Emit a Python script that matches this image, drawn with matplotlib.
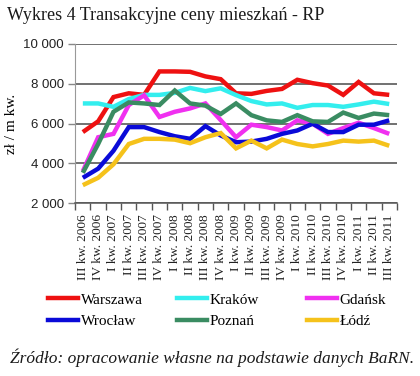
import numpy as np
import matplotlib
matplotlib.use("Agg")
import matplotlib.pyplot as plt
from matplotlib.lines import Line2D

quarters = ["III kw. 2006", "IV kw. 2006",
            "I kw. 2007", "II kw. 2007", "III kw. 2007", "IV kw. 2007",
            "I kw. 2008", "II kw. 2008", "III kw. 2008", "IV kw. 2008",
            "I kw. 2009", "II kw. 2009", "III kw. 2009", "IV kw. 2009",
            "I kw. 2010", "II kw. 2010", "III kw. 2010", "IV kw. 2010",
            "I kw. 2011", "II kw. 2011", "III kw. 2011"]

warszawa = [5570, 6110, 7330, 7520, 7440, 8620, 8620, 8600, 8370, 8230, 7520,
            7490, 7640, 7740, 8200, 8030, 7910, 7440, 8090, 7520, 7440]
krakow = [7010, 7010, 6840, 7230, 7440, 7440, 7540, 7790, 7630, 7770, 7430,
          7130, 6960, 7010, 6790, 6930, 6930, 6840, 6960, 7100, 6980]
gdansk = [3600, 5310, 5480, 6930, 7420, 6330, 6590, 6760, 7010, 6170, 5310,
          5940, 5820, 5650, 6160, 5990, 5480, 5770, 6040, 5770, 5480]
wroclaw = [3270, 3730, 4630, 5820, 5820, 5570, 5360, 5230, 5870, 5400, 5060,
           5090, 5230, 5480, 5650, 5990, 5570, 5570, 5940, 5940, 6160]
poznan = [3520, 4970, 6590, 7060, 7010, 6930, 7660, 7010, 6900, 6480, 7010,
          6420, 6160, 6080, 6420, 6110, 6080, 6550, 6280, 6500, 6420]
lodz = [2900, 3270, 3950, 4970, 5230, 5230, 5190, 5010, 5310, 5520, 4750,
        5140, 4750, 5190, 4970, 4850, 4970, 5140, 5090, 5140, 4880]

series = [("Warszawa", warszawa, "#ee1111"),
          ("Kraków", krakow, "#33eeee"),
          ("Gdańsk", gdansk, "#f030f0"),
          ("Wrocław", wroclaw, "#0a0ad8"),
          ("Poznań", poznan, "#3a8c62"),
          ("Łódź", lodz, "#f5c21b")]

serif = "Liberation Serif"
sans = "Liberation Sans"

fig = plt.figure(figsize=(4.2, 3.76), dpi=100)
ax = fig.add_axes([0.179, 0.46, 0.766, 0.423])

x = np.arange(len(quarters))
for name, vals, col in series:
    ax.plot(x, vals, color=col, lw=3.2, solid_capstyle="butt",
            solid_joinstyle="miter", label=name)

ax.set_xlim(-0.5, len(quarters) - 0.5)
ax.set_ylim(2000, 10000)
ax.set_yticks([2000, 4000, 6000, 8000, 10000])
ax.set_yticklabels(["2 000", "4 000", "6 000", "8 000", "10 000"],
                   fontfamily=sans, fontsize=9.5, color="#222222")
ax.yaxis.grid(True, color="#4a4a4a", lw=1.1)
ax.set_axisbelow(True)
ax.tick_params(axis="y", length=5, width=1, color="#888888", pad=3)

ax.set_xticks(x)
ax.set_xticklabels(quarters, rotation=90, fontfamily=serif, fontsize=9.6,
                   va="top", ha="center", color="#222222")
ax.set_xticks(np.arange(-0.5, len(quarters)), minor=True)
ax.tick_params(axis="x", which="major", length=0, pad=8)
ax.tick_params(axis="x", which="minor", length=5, width=1, color="#555555")

for s in ["top", "right"]:
    ax.spines[s].set_visible(False)
ax.spines["left"].set_color("#999999")
ax.spines["bottom"].set_color("#555555")
ax.spines["bottom"].set_linewidth(1.1)

ax.set_ylabel("zł / m kw.", fontfamily=serif, fontsize=11, labelpad=4)

fig.text(0.017, 0.96, "Wykres 4 Transakcyjne ceny mieszkań - RP",
         fontfamily=serif, fontsize=13, va="center", ha="left", color="#1a1a1a")

# legend: three columns of two entries
col_x = [43 / 420, 172 / 420, 302 / 420]
for c in range(3):
    hs = [Line2D([], [], color=series[r * 3 + c][2], lw=3.2) for r in range(2)]
    ls = [series[r * 3 + c][0] for r in range(2)]
    fig.legend(hs, ls, loc="upper left",
               bbox_to_anchor=(col_x[c] - 9 / 420, 0.233 + 9 / 376),
               frameon=False, handlelength=2.0, handletextpad=0.15,
               labelspacing=0.5, prop={"family": serif, "size": 11})

fig.text(0.024, 0.048, "Źródło: opracowanie własne na podstawie danych BaRN.",
         fontfamily=serif, fontstyle="italic", fontsize=12.5, va="center",
         ha="left", color="#1a1a1a")

fig.savefig("out.png", dpi=100)
